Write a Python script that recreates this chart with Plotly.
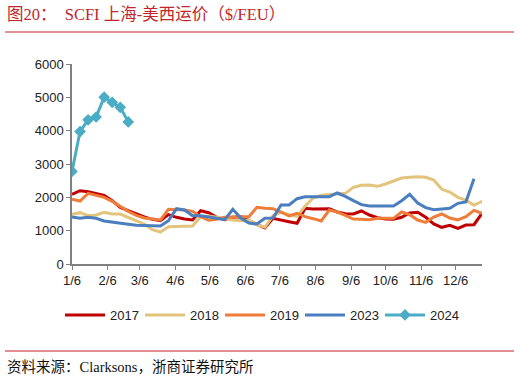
import pandas as pd
import plotly.graph_objects as go

weeks = pd.date_range("2017-01-06", periods=52, freq="7D")

s2017 = [2090, 2200, 2170, 2110, 2060, 1900, 1700, 1600, 1500, 1410, 1340, 1300, 1480, 1400, 1350, 1320,
         1600, 1540, 1400, 1330, 1400, 1420, 1300, 1180, 1080, 1370, 1330, 1270, 1220, 1670, 1650, 1650,
         1660, 1560, 1510, 1500, 1590, 1470, 1390, 1350, 1340, 1400, 1530, 1550, 1400, 1200, 1100, 1160,
         1070, 1170, 1180, 1520]
s2018 = [1490, 1540, 1450, 1470, 1550, 1500, 1500, 1400, 1290, 1200, 1030, 960, 1120, 1130, 1140, 1140,
         1420, 1440, 1400, 1350, 1320, 1300, 1320, 1180, 1100, 1450, 1550, 1480, 1430, 1740, 1980, 2060,
         2080, 2100, 2120, 2300, 2360, 2370, 2330, 2400, 2480, 2580, 2600, 2620, 2600, 2520, 2240, 2160,
         2000, 1920, 1760, 1880]
s2019 = [1940, 1890, 2120, 2060, 2000, 1880, 1720, 1580, 1460, 1380, 1350, 1320, 1640, 1640, 1620, 1580,
         1420, 1310, 1340, 1400, 1420, 1420, 1420, 1700, 1670, 1660, 1560, 1440, 1520, 1420, 1360, 1290,
         1620, 1560, 1460, 1350, 1340, 1330, 1370, 1370, 1370, 1560, 1480, 1320, 1250, 1410, 1500, 1380,
         1320, 1420, 1610, 1520]
s2023 = [1410, 1370, 1400, 1370, 1290, 1250, 1220, 1190, 1160, 1150, 1150, 1140, 1300, 1660, 1620, 1450,
         1450, 1420, 1370, 1330, 1640, 1380, 1230, 1200, 1370, 1380, 1770, 1770, 1960, 2020, 2020, 2020,
         2020, 2130, 2030, 1900, 1780, 1740, 1740, 1740, 1740, 1900, 2090, 1830, 1690, 1630, 1640, 1670,
         1820, 1860, 2560]
s2024 = [2776, 3974, 4325, 4410, 5004, 4850, 4700, 4263]

series = [
    ("2017", s2017, "#C00000"),
    ("2018", s2018, "#E2C47C"),
    ("2019", s2019, "#EE7D3A"),
    ("2023", s2023, "#4A7EBF"),
]

month_ticks = [pd.Timestamp(2017, m, 6) for m in range(1, 13)]
month_labels = [f"{m}/6" for m in range(1, 13)]

fig = go.Figure()
for name, vals, col in series:
    fig.add_trace(go.Scatter(x=weeks[:len(vals)], y=vals, name=name, mode="lines",
                             line=dict(color=col, width=3)))
fig.add_trace(go.Scatter(x=weeks[:len(s2024)], y=s2024, name="2024", mode="lines+markers",
                         line=dict(color="#4BACC6", width=3),
                         marker=dict(symbol="diamond", size=9, color="#4BACC6")))

L, R, T, B = 72, 38, 64, 118
W, H = 520, 382
pw = W - L - R
ph = H - T - B
def px(x):
    return (x - L) / pw
def py(y):
    return (H - B - y) / ph

fig.update_layout(
    width=W, height=H,
    margin=dict(l=L, r=R, t=T, b=B),
    paper_bgcolor="white", plot_bgcolor="white",
    font=dict(family="Liberation Sans, Arial, sans-serif", size=13, color="#222"),
    showlegend=True,
    legend=dict(orientation="h", xref="container", x=0.5, xanchor="center",
                yref="container", y=1 - 315 / H, yanchor="middle",
                font=dict(size=13, color="#222"), entrywidth=25, entrywidthmode="pixels",
                itemwidth=40, tracegroupgap=0, bgcolor="rgba(0,0,0,0)"),
    xaxis=dict(type="date", range=[pd.Timestamp(2017, 1, 6), pd.Timestamp(2017, 12, 29)],
               tickvals=month_ticks, ticktext=month_labels, showgrid=False,
               showline=True, linecolor="#808080", linewidth=1.5, ticks="outside",
               tickcolor="#808080", ticklen=4, tickfont=dict(size=13, color="#222")),
    yaxis=dict(range=[0, 6000], tickvals=[0, 1000, 2000, 3000, 4000, 5000, 6000], showgrid=False,
               showline=True, linecolor="#808080", linewidth=1.5, ticks="outside",
               tickcolor="#808080", ticklen=4, tickfont=dict(size=13, color="#222"), zeroline=False),
)

fig.add_annotation(text="图20：  SCFI 上海-美西运价（$/FEU）", xref="paper", yref="paper",
                   x=px(5), y=py(15), xanchor="left", yanchor="middle", showarrow=False,
                   font=dict(family="Liberation Serif, Noto Sans CJK SC", size=16.5, color="#C0272D"))
fig.add_annotation(text="资料来源：Clarksons，浙商证券研究所", xref="paper", yref="paper",
                   x=px(5), y=py(367), xanchor="left", yanchor="middle", showarrow=False,
                   font=dict(family="Liberation Serif, Noto Sans CJK SC", size=14.5, color="#111"))
fig.add_shape(type="line", xref="paper", yref="paper", x0=px(5), x1=px(514), y0=py(32), y1=py(32),
              line=dict(color="#C0272D", width=1))
fig.add_shape(type="line", xref="paper", yref="paper", x0=px(5), x1=px(514), y0=py(351), y1=py(351),
              line=dict(color="#D9666F", width=1.5))

fig.write_html("out.html", config={"displayModeBar": False},
               post_script="document.body.style.margin='0';")
